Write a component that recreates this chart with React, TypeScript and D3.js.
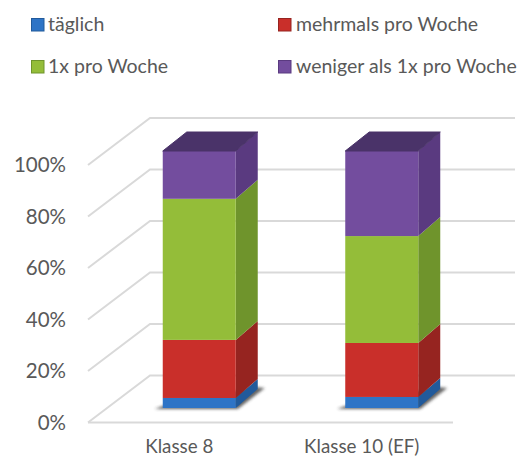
import React from 'react';
import * as d3 from 'd3';

const categories = ['Klasse 8', 'Klasse 10 (EF)'];
const seriesNames = ['täglich', 'mehrmals pro Woche', '1x pro Woche', 'weniger als 1x pro Woche'];
const taeglich = [3.9, 4.3];
const mehrmals = [22.6, 21.0];
const einmal = [54.9, 41.6];
const weniger = [18.6, 33.1];
const tickValues = [0, 20, 40, 60, 80, 100];

const frontColors = ['#2e74c6', '#c92f2a', '#94bd39', '#734d9e'];
const sideColors = ['#215a9b', '#962420', '#6f942c', '#5a3a80'];
const topColor = '#4a3369';
const gridColor = '#d9d9d9';
const textColor = '#595959';
const font = 'Lato, "Open Sans", sans-serif';

const W = 521;
const H = 457;
const depthX = 62; // floor depth
const depthY = 47;
const barDx = 22; // bar depth
const barDy = 19;

export default function App() {
  const rows = categories.map((c, i) => ({
    cat: c,
    s0: taeglich[i],
    s1: mehrmals[i],
    s2: einmal[i],
    s3: weniger[i],
  }));
  const stacked = d3.stack<any>().keys(['s0', 's1', 's2', 's3'])(rows);

  const gridY = d3.scaleLinear().domain([0, 100]).range([422.5, 165]);
  const barY = d3.scaleLinear().domain([0, 100]).range([408, 151]);
  const x = d3.scaleBand().domain(categories).range([88, 453]).paddingInner(0);
  const barW = 73;
  const barX = (c: string) => x(c)! + x.bandwidth() / 2 + 20 - barW / 2;

  return (
    <svg width={W} height={H} style={{ position: 'absolute', left: 0, top: 0, background: '#fff' }} fontFamily={font}>
      <defs>
        <filter id="soft" x="-30%" y="-30%" width="160%" height="160%">
          <feGaussianBlur stdDeviation="1.5" />
        </filter>
      </defs>

      {/* legend */}
      {seriesNames.map((n, i) => {
        const lx = i % 2 === 0 ? 31 : 278;
        const ly = i < 2 ? 24 : 66;
        return (
          <g key={n}>
            <rect x={lx + 0.5} y={ly - 5.5} width={12.5} height={12.5} fill={frontColors[i]} stroke={sideColors[i]} strokeWidth={1} />
            <text x={lx + (i % 2 === 0 ? 17 : 18)} y={ly + 6.5} fontSize={19.5} fill={textColor}>{n}</text>
          </g>
        );
      })}

      {/* grid */}
      {tickValues.map((t) => {
        const y0 = gridY(t);
        return (
          <g key={t}>
            <path
              d={d3.line()([[88, y0], [88 + depthX, y0 - depthY], [453 + depthX, y0 - depthY]])!}
              fill="none"
              stroke={gridColor}
              strokeWidth={2}
            />
            <text x={66} y={y0 + 7} textAnchor="end" fontSize={20.5} fill={textColor}>{t}%</text>
          </g>
        );
      })}
      <line x1={88} x2={453} y1={gridY(0)} y2={gridY(0)} stroke={gridColor} strokeWidth={2} />

      {/* bars */}
      {categories.map((c, ci) => {
        const x0 = barX(c);
        const x1 = x0 + barW;
        const bottom = barY(0);
        return (
          <g key={c}>
            <path
              d={d3.line()([[x0 - 8, bottom + 1], [x1 + 2, bottom + 1], [x1 + barDx + 7, bottom - barDy - 1], [x1 + barDx - 4, bottom - barDy - 2], [x0, bottom - 2]])! + 'Z'}
              fill="#333"
              opacity={0.75}
              filter="url(#soft)"
            />
            {stacked.map((s, si) => {
              const y0 = barY(s[ci][0]);
              const y1 = barY(s[ci][1]);
              return (
                <g key={s.key}>
                  <path
                    d={d3.line()([[x1, y0], [x1 + barDx, y0 - barDy], [x1 + barDx, y1 - barDy], [x1, y1]])! + 'Z'}
                    fill={sideColors[si]}
                  />
                  <rect x={x0} y={y1} width={barW} height={y0 - y1} fill={frontColors[si]} />
                </g>
              );
            })}
            <path
              d={d3.line()([[x0, barY(100)], [x0 + barDx + 2, barY(100) - barDy], [x1 + barDx, barY(100) - barDy], [x1, barY(100)]])! + 'Z'}
              fill={topColor}
              stroke={topColor}
              strokeWidth={1}
              strokeLinejoin="round"
            />
            <text x={x(c)! + x.bandwidth() / 2} y={452.5} textAnchor="middle" fontSize={18.8} fill={textColor}>{c}</text>
          </g>
        );
      })}
    </svg>
  );
}
